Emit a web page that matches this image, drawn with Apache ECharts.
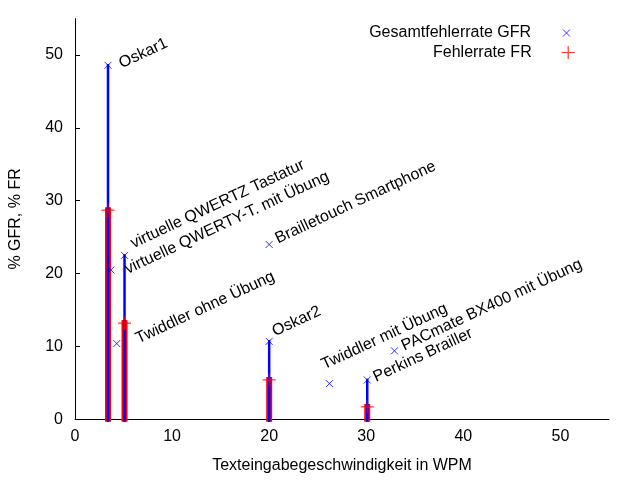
<!DOCTYPE html>
<html><head><meta charset="utf-8">
<script src="https://cdn.jsdelivr.net/npm/echarts@6/dist/echarts.min.js"></script>
<style>html,body{margin:0;padding:0;background:#fff}#c{width:640px;height:480px}</style>
</head><body><div id="c"></div><script>
// ---- data ----
const devices = ['Oskar1', 'virtuelle QWERTZ Tastatur', 'virtuelle QWERTY-T. mit Übung', 'Twiddler ohne Übung', 'Oskar2', 'Brailletouch Smartphone', 'Twiddler mit Übung', 'Perkins Brailler', 'PACmate BX400 mit Übung'];
const wpm = [3.4, 5.1, 3.7, 4.3, 20.0, 20.0, 26.2, 30.1, 32.9];
const gfr = [48.6, 22.5, 20.5, 10.4, 10.7, 24.0, 4.9, 5.4, 9.4];
const fr  = [28.7, 13.2, null, null, 5.4, null, null, 1.7, null];
const xTicks = [0, 10, 20, 30, 40, 50];
const yTicks = [0, 10, 20, 30, 40, 50];
const gfrName = 'Gesamtfehlerrate GFR';
const frName = 'Fehlerrate FR';

// ---- style (pixel offsets of each label from its point) ----
const labelOffsets = [[12, -1], [7, -11], [15, 0], [20, -4], [4, -9], [7, -5], [-7, -18], [7, -2], [8, -4]];
const FONT = 'Liberation Sans, Arial, sans-serif';
const xPath = 'path://M0,0L10,10M10,0L0,10';
const plusPath = 'path://M5,0L5,10M0,5L10,5';

const gfrPts = wpm.map((x, i) => [x, gfr[i]]);
const frPts = wpm.map((x, i) => [x, fr[i]]).filter(p => p[1] != null);
const gfrImp = wpm.map((x, i) => [x, gfr[i], fr[i]]).filter(p => p[2] != null).map(p => [p[0], p[1]]);
const labelData = wpm.map((x, i) => [x, gfr[i], i]);

function impulse(color, width) {
  return function (params, api) {
    const top = api.coord([api.value(0), api.value(1)]);
    const bot = api.coord([api.value(0), 0]);
    return {
      type: 'line',
      shape: { x1: top[0], y1: top[1] - width / 2, x2: bot[0], y2: bot[1] + 2.5 },
      style: { stroke: color, lineWidth: width }
    };
  };
}

const chart = echarts.init(document.getElementById('c'), null, { renderer: 'canvas' });
chart.setOption({
  animation: false,
  backgroundColor: '#ffffff',
  textStyle: { fontFamily: FONT },
  grid: { left: 74, right: 31, top: 18.6, bottom: 60.7, containLabel: false },
  xAxis: {
    type: 'value', min: 0, max: 55, interval: 10,
    name: 'Texteingabegeschwindigkeit in WPM', nameLocation: 'middle', nameGap: 38,
    nameTextStyle: { fontSize: 16, color: '#000', fontFamily: FONT },
    axisLine: { show: true, lineStyle: { color: '#000', width: 1 } },
    axisTick: { show: false },
    splitLine: { show: false },
    axisLabel: { fontSize: 16, color: '#000', fontFamily: FONT, margin: 9, customValues: xTicks }
  },
  yAxis: {
    type: 'value', min: 0, max: 55, interval: 10,
    name: '% GFR, % FR', nameLocation: 'middle', nameGap: 51, nameRotate: 90,
    nameTextStyle: { fontSize: 16, color: '#000', fontFamily: FONT },
    axisLine: { show: true, lineStyle: { color: '#000', width: 1 } },
    axisTick: { show: true, inside: true, length: 5, lineStyle: { color: '#000' }, customValues: yTicks },
    splitLine: { show: false },
    axisLabel: { fontSize: 16, color: '#000', fontFamily: FONT, margin: 12, customValues: yTicks }
  },
  legend: [
    {
      data: [{ name: gfrName, icon: xPath, itemStyle: { color: 'rgba(0,0,0,0)', borderColor: '#0000ff', borderWidth: 1 } }],
      selectedMode: false, padding: 0,
      right: 69.5, top: 25, itemWidth: 7, itemHeight: 7, align: 'right', orient: 'vertical',
      textStyle: { fontSize: 16, color: '#000', fontFamily: FONT, padding: [0, 27, 0, 0] }
    },
    {
      data: [{ name: frName, icon: plusPath, itemStyle: { color: 'rgba(0,0,0,0)', borderColor: '#ff0000', borderWidth: 1.2 } }],
      selectedMode: false, padding: 0,
      right: 64.7, top: 44.5, itemWidth: 13, itemHeight: 13, align: 'right', orient: 'vertical',
      textStyle: { fontSize: 16, color: '#000', fontFamily: FONT, padding: [0, 25, 0, 0] }
    }
  ],
  series: [
    { type: 'custom', name: 'frImp', data: frPts, renderItem: impulse('#ff0000', 6), clip: false, silent: true, z: 1 },
    { type: 'custom', name: 'gfrImp', data: gfrImp, renderItem: impulse('#0000ff', 2.5), clip: false, silent: true, z: 2 },
    {
      type: 'scatter', name: frName, data: frPts, symbol: plusPath, symbolSize: 13, z: 3,
      itemStyle: { color: 'rgba(0,0,0,0)', borderColor: '#ff0000', borderWidth: 1.2 }
    },
    {
      type: 'scatter', name: gfrName, data: gfrPts, symbol: xPath, symbolSize: 7, z: 4,
      itemStyle: { color: 'rgba(0,0,0,0)', borderColor: '#0000ff', borderWidth: 1 }
    },
    {
      type: 'custom', name: 'labels', data: labelData, clip: false, silent: true, z: 5,
      renderItem: function (params, api) {
        const i = api.value(2);
        const p = api.coord([api.value(0), api.value(1)]);
        const off = labelOffsets[i];
        return {
          type: 'text', x: p[0] + off[0], y: p[1] + off[1], rotation: 25 * Math.PI / 180,
          style: { text: devices[i], fill: '#000', font: '16px ' + FONT, align: 'left', verticalAlign: 'middle' }
        };
      }
    }
  ]
});
</script></body></html>
